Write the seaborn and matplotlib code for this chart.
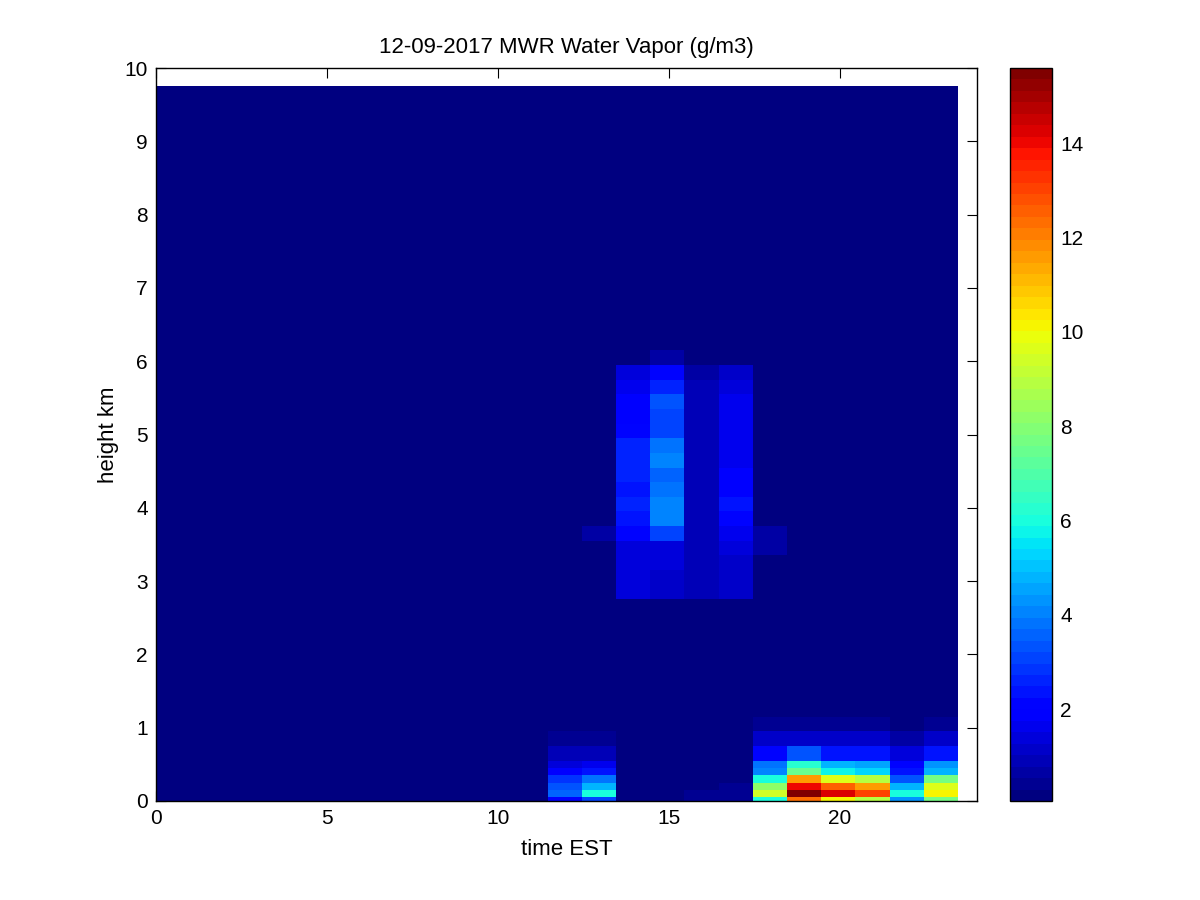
import numpy as np
import matplotlib
matplotlib.use("Agg")
import matplotlib.pyplot as plt
from matplotlib.colors import Normalize
import seaborn as sns

# ---------------- data ----------------
title = "12-09-2017 MWR Water Vapor (g/m3)"
x_label = "time EST"
y_label = "height km"

# cell edges (hours EST)
time_edges = [0.0, 0.45, 1.45, 2.45, 3.45, 4.45, 5.45, 6.45, 7.45, 8.45, 9.45,
              10.45, 11.45, 12.45, 13.45, 14.45, 15.45, 16.45, 17.45, 18.45,
              19.45, 20.45, 21.45, 22.45, 23.45]
# cell edges (km)
height_edges = [0.0, 0.06, 0.15, 0.25, 0.35, 0.45, 0.55, 0.75, 0.95,
                1.15, 1.35, 1.55, 1.75, 1.95, 2.15, 2.35, 2.55, 2.75, 2.95,
                3.15, 3.35, 3.55, 3.75, 3.95, 4.15, 4.35, 4.55, 4.75, 4.95,
                5.15, 5.35, 5.55, 5.75, 5.95, 6.15, 6.35, 6.55, 6.75, 6.95,
                7.15, 7.35, 7.55, 7.75, 7.95, 8.15, 8.35, 8.55, 8.75, 8.95,
                9.15, 9.35, 9.55, 9.75]

background = 0.15          # g/m3, dry air everywhere else
color_min, color_max = 0.05, 15.6

# near-surface profiles, cells 0-0.06 ... 0.95-1.15 km, keyed by column start time
low_1145 = [1.9, 3.6, 3.3, 2.8, 1.9, 1.4, 0.8, 0.3, 0.15]
low_1245 = [3.2, 5.9, 4.8, 3.7, 2.3, 1.6, 0.9, 0.3, 0.15]
low_1545 = [0.3, 0.35, 0.25, 0.2, 0.15, 0.15, 0.15, 0.15, 0.15]
low_1645 = [0.4, 0.45, 0.3, 0.2, 0.15, 0.15, 0.15, 0.15, 0.15]
low_1745 = [6.0, 9.4, 8.2, 5.9, 4.0, 3.8, 2.2, 1.1, 0.3]
low_1845 = [12.3, 15.6, 14.1, 11.6, 7.4, 6.2, 3.3, 1.2, 0.35]
low_1945 = [10.2, 14.3, 12.5, 9.6, 5.8, 4.7, 2.3, 1.1, 0.3]
low_2045 = [9.0, 13.1, 11.6, 8.9, 5.3, 4.6, 2.3, 1.1, 0.3]
low_2145 = [4.2, 5.9, 4.8, 3.3, 2.3, 2.0, 1.3, 0.6, 0.25]
low_2245 = [7.8, 10.2, 9.7, 7.6, 4.7, 4.2, 2.3, 1.1, 0.35]

# mid-level layer, cells 2.75-2.95 ... 5.95-6.15 km
mid_1245 = [0.15, 0.15, 0.15, 0.15, 0.55, 0.15, 0.15, 0.15, 0.15, 0.15,
            0.15, 0.15, 0.15, 0.15, 0.15, 0.15, 0.15]
mid_1345 = [1.3, 1.35, 1.4, 1.45, 2.0, 2.3, 2.5, 2.3, 2.5, 2.6,
            2.6, 2.1, 1.8, 1.8, 1.7, 1.4, 0.15]
mid_1445 = [1.2, 1.25, 1.3, 1.4, 3.0, 4.0, 4.1, 3.9, 3.6, 4.0,
            3.9, 3.2, 3.1, 3.3, 2.7, 2.0, 0.6]
mid_1545 = [0.9, 0.9, 1.0, 1.0, 0.9, 0.9, 0.8, 0.9, 0.8, 0.8,
            0.8, 0.8, 0.8, 0.8, 0.8, 0.7, 0.15]
mid_1645 = [1.1, 1.1, 1.2, 1.3, 1.6, 2.2, 2.3, 1.8, 1.8, 1.7,
            1.7, 1.7, 1.7, 1.6, 1.5, 1.2, 0.15]
mid_1745 = [0.15, 0.15, 0.15, 0.55, 0.6, 0.15, 0.15, 0.15, 0.15, 0.15,
            0.15, 0.15, 0.15, 0.15, 0.15, 0.15, 0.15]

x_ticks = [0, 5, 10, 15, 20]
y_ticks = [0, 1, 2, 3, 4, 5, 6, 7, 8, 9, 10]
cbar_ticks = [2, 4, 6, 8, 10, 12, 14]

# ---------------- assemble grid ----------------
t_e = np.array(time_edges)
h_e = np.array(height_edges)
Z = np.full((len(h_e) - 1, len(t_e) - 1), background)

def col_of(t_start):
    return int(np.argmin(np.abs(t_e[:-1] - t_start)))

low = {11.45: low_1145, 12.45: low_1245, 15.45: low_1545, 16.45: low_1645,
       17.45: low_1745, 18.45: low_1845, 19.45: low_1945, 20.45: low_2045,
       21.45: low_2145, 22.45: low_2245}
mid = {12.45: mid_1245, 13.45: mid_1345, 14.45: mid_1445, 15.45: mid_1545,
       16.45: mid_1645, 17.45: mid_1745}
mid_start = int(np.argmin(np.abs(h_e - 2.75)))
for t0, prof in low.items():
    Z[:len(prof), col_of(t0)] = prof
for t0, prof in mid.items():
    Z[mid_start:mid_start + len(prof), col_of(t0)] = prof

# ---------------- style ----------------
sns.set_theme(style="ticks", rc={
    "xtick.direction": "in", "ytick.direction": "in",
    "xtick.top": True, "ytick.right": True,
    "axes.edgecolor": "black", "axes.linewidth": 1.0,
    "xtick.major.size": 7, "ytick.major.size": 7,
    "xtick.major.width": 0.8, "ytick.major.width": 0.8,
    "text.color": "black", "axes.labelcolor": "black",
    "xtick.color": "black", "ytick.color": "black",
})
plt.rcParams["font.family"] = ["Liberation Sans", "DejaVu Sans"]
fs = 15
fs_lab = 16

jet64 = plt.get_cmap("jet", 64)
norm = Normalize(vmin=color_min, vmax=color_max)

fig = plt.figure(figsize=(12, 9), dpi=100)
ax = fig.add_axes([0.13, 0.11, 0.684, 0.8144])
cax = fig.add_axes([0.8417, 0.11, 0.035, 0.8144])

mesh = ax.pcolormesh(t_e, h_e, Z, cmap=jet64, norm=norm, shading="flat")
ax.set_xlim(0, 24)
ax.set_ylim(0, 10)
ax.set_xticks(x_ticks)
ax.set_yticks(y_ticks)
ax.tick_params(labelsize=fs, colors="black", pad=6)
ax.set_xlabel(x_label, fontsize=fs_lab, labelpad=8, color="black")
ax.set_ylabel(y_label, fontsize=fs_lab, labelpad=4, color="black")
ax.set_title(title, fontsize=fs_lab, pad=11, color="black")
for s in ax.spines.values():
    s.set_visible(True)

cb = fig.colorbar(mesh, cax=cax)
cb.set_ticks(cbar_ticks)
cax.tick_params(direction="in", left=True, right=True, length=7,
                labelsize=fs, pad=6, colors="black")
cb.outline.set_linewidth(1.0)
cb.outline.set_edgecolor("black")

fig.savefig("out.png", dpi=100, facecolor="white")
